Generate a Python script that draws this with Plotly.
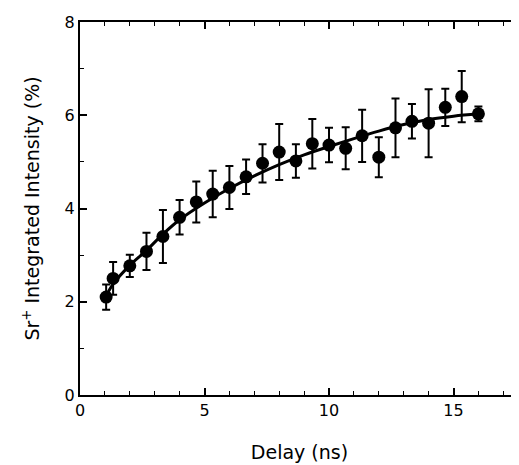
import plotly.graph_objects as go

delay = [1.05, 1.33, 2.0, 2.67, 3.33, 4.0, 4.67, 5.33, 6.0, 6.67, 7.33, 8.0,
         8.67, 9.33, 10.0, 10.67, 11.33, 12.0, 12.67, 13.33, 14.0, 14.67, 15.33, 16.0]
intensity = [2.1, 2.5, 2.77, 3.08, 3.40, 3.81, 4.14, 4.31, 4.45, 4.68, 4.97, 5.21,
             5.02, 5.39, 5.36, 5.29, 5.56, 5.10, 5.73, 5.87, 5.83, 6.17, 6.40, 6.03]
err = [0.27, 0.35, 0.24, 0.40, 0.57, 0.37, 0.44, 0.50, 0.46, 0.37, 0.41, 0.60,
       0.36, 0.53, 0.37, 0.45, 0.56, 0.43, 0.63, 0.37, 0.73, 0.40, 0.55, 0.16]

fit_x = [1.0, 1.33, 2.0, 2.67, 3.33, 4.0, 5.0, 6.0, 7.0, 8.0, 9.0, 10.0,
         11.0, 12.0, 13.0, 14.0, 15.0, 16.0]
fit_y = [2.08, 2.38, 2.78, 3.10, 3.45, 3.76, 4.12, 4.43, 4.70, 4.94, 5.15, 5.33,
         5.50, 5.66, 5.80, 5.91, 5.98, 6.03]

fig = go.Figure()
fig.add_trace(go.Scatter(x=fit_x, y=fit_y, mode="lines",
                         line=dict(color="black", width=3, shape="spline"),
                         showlegend=False))
fig.add_trace(go.Scatter(x=delay, y=intensity, mode="markers",
                         marker=dict(color="black", size=13),
                         error_y=dict(type="data", array=err, color="black",
                                      thickness=2, width=4),
                         showlegend=False))

font = "DejaVu Sans, Liberation Sans, sans-serif"
fig.update_layout(
    width=511, height=457,
    margin=dict(l=72, r=0, t=14, b=70),
    plot_bgcolor="white", paper_bgcolor="white",
    font=dict(family=font, color="black", size=17),
    xaxis=dict(range=[0, 17.63], tickmode="array", tickvals=[0, 5, 10, 15],
               automargin=False,
               ticks="inside", ticklen=7, tickwidth=1.5, tickcolor="black",
               minor=dict(dtick=1, ticks="inside", ticklen=4, tickcolor="black", tickwidth=1),
               showline=True, linecolor="black", linewidth=2, mirror="allticks",
               showgrid=False, zeroline=False,
               title=dict(text="Delay (ns)", font=dict(size=19), standoff=26),
               tickfont=dict(size=16)),
    yaxis=dict(range=[0, 8], tickmode="array", tickvals=[0, 2, 4, 6, 8],
               automargin=False,
               ticks="inside", ticklen=7, tickwidth=1.5, tickcolor="black",
               minor=dict(dtick=1, ticks="inside", ticklen=4, tickcolor="black", tickwidth=1),
               showline=True, linecolor="black", linewidth=2,
               showgrid=False, zeroline=False,
               title=dict(text="Sr<sup>+</sup> Integrated Intensity (%)",
                          font=dict(size=19), standoff=20),
               tickfont=dict(size=16)),
)

fig.write_html("out.html")
